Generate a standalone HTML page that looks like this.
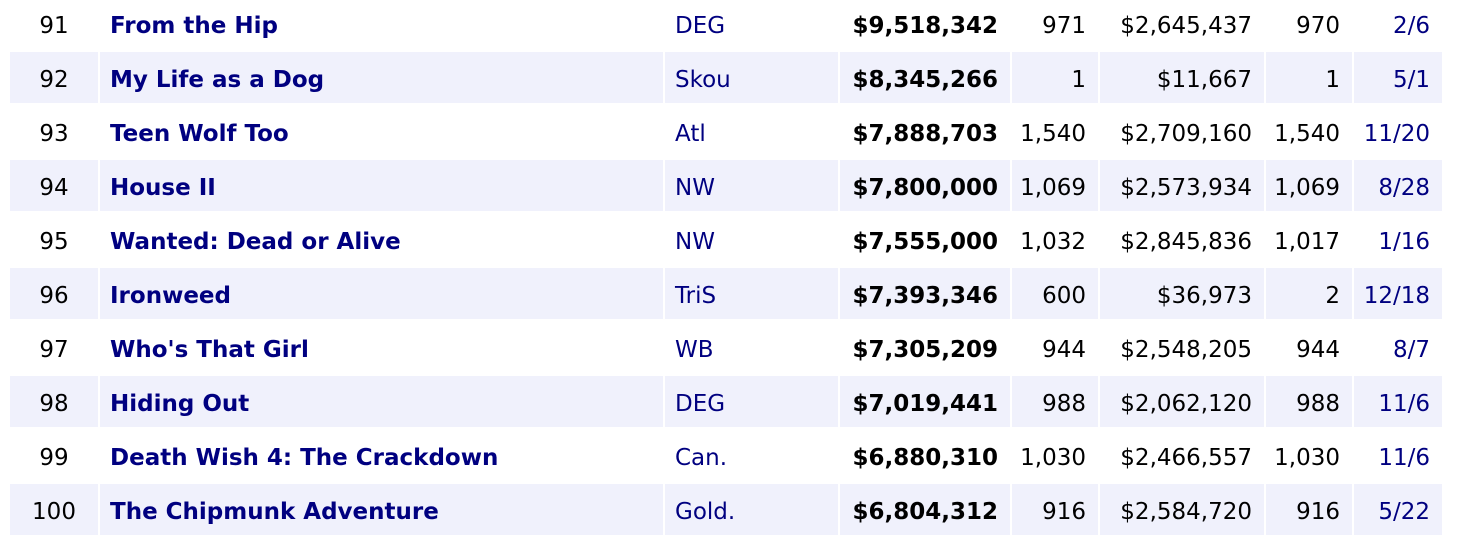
<!DOCTYPE html>
<html><head><meta charset="utf-8"><style>
body{margin:0;width:1474px;height:538px;background:#fff;overflow:hidden;position:relative;font-family:"DejaVu Sans","Liberation Sans",sans-serif;font-size:23px;}
.c{position:absolute;height:51px;line-height:51px;padding-top:3px;box-sizing:border-box;white-space:nowrap;color:#000;}
.s{background:#f0f1fc;}
.n{text-align:center;}
.t{font-weight:bold;color:#000080;padding-left:10px;}
.st{color:#000080;padding-left:10px;}
.r{text-align:right;padding-right:12px;}
.b{font-weight:bold;}
.d{color:#000080;}
</style></head><body>
<script>
const rows=[
["91","From the Hip","DEG","$9,518,342","971","$2,645,437","970","2/6"],
["92","My Life as a Dog","Skou","$8,345,266","1","$11,667","1","5/1"],
["93","Teen Wolf Too","Atl","$7,888,703","1,540","$2,709,160","1,540","11/20"],
["94","House II","NW","$7,800,000","1,069","$2,573,934","1,069","8/28"],
["95","Wanted: Dead or Alive","NW","$7,555,000","1,032","$2,845,836","1,017","1/16"],
["96","Ironweed","TriS","$7,393,346","600","$36,973","2","12/18"],
["97","Who's That Girl","WB","$7,305,209","944","$2,548,205","944","8/7"],
["98","Hiding Out","DEG","$7,019,441","988","$2,062,120","988","11/6"],
["99","Death Wish 4: The Crackdown","Can.","$6,880,310","1,030","$2,466,557","1,030","11/6"],
["100","The Chipmunk Adventure","Gold.","$6,804,312","916","$2,584,720","916","5/22"]];
const cols=[[10,88,"n"],[100,563,"t"],[665,173,"st"],[840,170,"r b"],[1012,86,"r"],[1100,164,"r"],[1266,86,"r"],[1354,88,"r d"]];
let h="";
rows.forEach((r,i)=>{const y=-2+54*i;const sh=i%2==1?" s":"";
cols.forEach((c,j)=>{h+=`<div class="c ${c[2]}${sh}" style="left:${c[0]}px;top:${y}px;width:${c[1]}px">${r[j]}</div>`;});});
document.write(h);
</script>
</body></html>
